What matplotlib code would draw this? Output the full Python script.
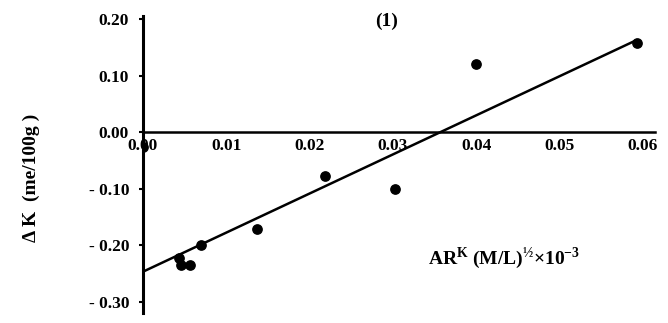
import numpy as np
import matplotlib
matplotlib.use("Agg")
import matplotlib.pyplot as plt

# data
x_pts = [0.0, 0.0043, 0.0046, 0.0057, 0.0070, 0.0137, 0.0219, 0.0302, 0.0400, 0.0593]
y_pts = [-0.027, -0.223, -0.236, -0.236, -0.200, -0.172, -0.078, -0.100, 0.121, 0.158]

# fitted line end points
fit_x = [0.0, 0.0593]
fit_y = [-0.247, 0.163]

x_ticks = [0.0, 0.01, 0.02, 0.03, 0.04, 0.05, 0.06]
x_labels = ["0.00", "0.01", "0.02", "0.03", "0.04", "0.05", "0.06"]
y_ticks = [0.20, 0.10, 0.00, -0.10, -0.20, -0.30]
y_labels = ["0.20", "0.10", "0.00", "- 0.10", "- 0.20", "- 0.30"]

plt.rcParams['font.family'] = ['Liberation Serif', 'DejaVu Serif']
plt.rcParams['font.weight'] = 'bold'
plt.rcParams['mathtext.fontset'] = 'custom'
plt.rcParams['mathtext.rm'] = 'Liberation Serif:bold'
plt.rcParams['mathtext.bf'] = 'Liberation Serif:bold'

fig = plt.figure(figsize=(6.68, 3.23), dpi=100)
ax = fig.add_axes([0.214, 0.031, 0.767, 0.919])

ax.plot(fit_x, fit_y, color="black", lw=1.8, solid_capstyle="butt")
ax.scatter(x_pts, y_pts, s=45, color="black", zorder=3)

ax.set_xlim(0, 0.0615)
ax.set_ylim(-0.32, 0.205)

ax.spines['top'].set_visible(False)
ax.spines['right'].set_visible(False)
ax.spines['bottom'].set_position(('data', 0))
ax.spines['bottom'].set_linewidth(1.8)
ax.spines['left'].set_linewidth(2.2)

ax.set_xticks(x_ticks)
ax.set_xticklabels(x_labels, fontsize=12.5, fontweight="bold")
ax.tick_params(axis='x', length=0, pad=4)
ax.set_yticks(y_ticks)
ax.set_yticklabels(y_labels, fontsize=12.5, fontweight="bold")
ax.tick_params(axis='y', direction='out', length=3, width=1.5, pad=7)

fig.text(0.047, 0.45, "Δ K  (me/100g )", rotation=90, ha="center", va="center",
         fontsize=14, fontweight="bold")
fig.text(0.755, 0.20, r"AR$^{\mathrm{K}}$ (M/L)$^{\mathrm{½}}$×10$^{\mathrm{-3}}$",
         ha="center", va="center", fontsize=14, fontweight="bold")
fig.text(0.578, 0.935, "(1)", ha="center", va="center", fontsize=14, fontweight="bold")

fig.savefig("out.png", dpi=100)
